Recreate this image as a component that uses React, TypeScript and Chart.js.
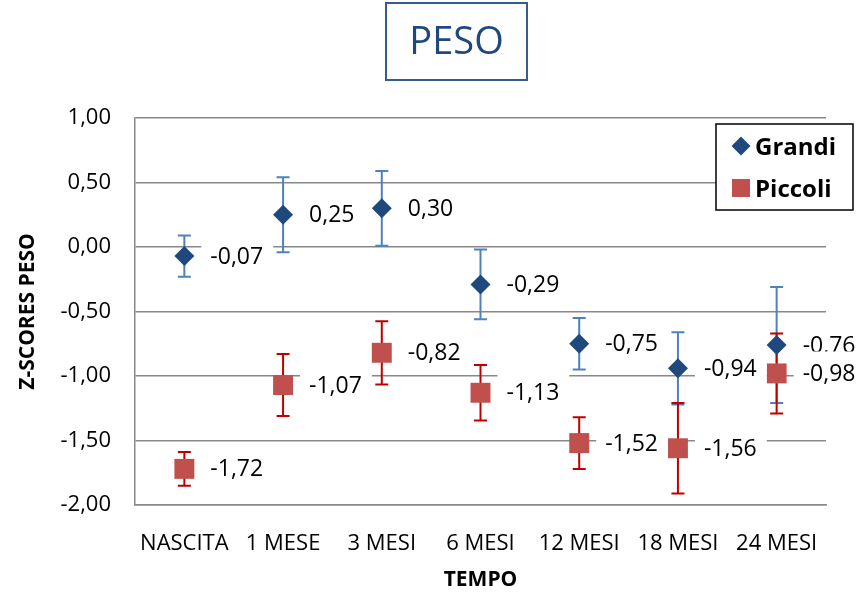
import { useEffect, useRef } from "react";
import { Chart, registerables } from "chart.js";

Chart.register(...registerables);

const categories = ["NASCITA", "1 MESE", "3 MESI", "6 MESI", "12 MESI", "18 MESI", "24 MESI"];
const grandiValues = [-0.07, 0.25, 0.3, -0.29, -0.75, -0.94, -0.76];
const grandiErrors = [0.16, 0.29, 0.29, 0.27, 0.2, 0.28, 0.45];
const piccoliValues = [-1.72, -1.07, -0.82, -1.13, -1.52, -1.56, -0.98];
const piccoliErrors = [0.13, 0.24, 0.245, 0.215, 0.2, 0.35, 0.31];
const yTickValues = [-2, -1.5, -1, -0.5, 0, 0.5, 1];
const seriesNames = ["Grandi", "Piccoli"];
const chartTitle = "PESO";
const yTitle = "Z-SCORES PESO";
const xTitle = "TEMPO";

const FONT = "'Open Sans', sans-serif";
const errors = [grandiErrors, piccoliErrors];
const errorColors = ["#4F81BD", "#C00000"];
const markerColors = ["#1F497D", "#C0504D"];
const markerStyles = ["rectRot", "rect"];
const markerRadii = [10, 14.1];

const fmt = (v: number) => v.toFixed(2).replace(".", ",");

const errorBarPlugin = {
  id: "errorBars",
  beforeDatasetsDraw(chart: any) {
    const ctx = chart.ctx;
    const ys = chart.scales.y;
    chart.data.datasets.forEach((ds: any, i: number) => {
      const meta = chart.getDatasetMeta(i);
      ctx.save();
      ctx.strokeStyle = errorColors[i];
      ctx.lineWidth = 2;
      meta.data.forEach((pt: any, j: number) => {
        const v = ds.data[j] as number;
        const e = errors[i][j];
        const x = pt.x;
        const top = ys.getPixelForValue(v + e);
        const bot = ys.getPixelForValue(v - e);
        ctx.beginPath();
        ctx.moveTo(x, top);
        ctx.lineTo(x, bot);
        ctx.moveTo(x - 6.5, top);
        ctx.lineTo(x + 6.5, top);
        ctx.moveTo(x - 6.5, bot);
        ctx.lineTo(x + 6.5, bot);
        ctx.stroke();
      });
      ctx.restore();
    });
  },
};

const dataLabelPlugin = {
  id: "dataLabels",
  afterDatasetsDraw(chart: any) {
    const ctx = chart.ctx;
    ctx.save();
    ctx.font = `23px ${FONT}`;
    ctx.textBaseline = "middle";
    ctx.textAlign = "left";
    chart.data.datasets.forEach((ds: any, i: number) => {
      const meta = chart.getDatasetMeta(i);
      meta.data.forEach((pt: any, j: number) => {
        const text = fmt(ds.data[j]);
        const w = ctx.measureText(text).width;
        ctx.fillStyle = "#FFFFFF";
        ctx.fillRect(pt.x + 17, pt.y - 22, w + 19, 44);
        ctx.fillStyle = "#000000";
        ctx.fillText(text, pt.x + 26, pt.y + 1);
      });
    });
    ctx.restore();
  },
};

const decorPlugin = {
  id: "decor",
  afterDraw(chart: any) {
    const ctx = chart.ctx;
    ctx.save();
    // Title box
    ctx.fillStyle = "#FFFFFF";
    ctx.fillRect(386, 3, 141, 77);
    ctx.strokeStyle = "#385D8A";
    ctx.lineWidth = 2;
    ctx.strokeRect(386, 3, 141, 77);
    ctx.fillStyle = "#1F497D";
    ctx.font = `38px ${FONT}`;
    ctx.textAlign = "center";
    ctx.textBaseline = "alphabetic";
    ctx.fillText(chartTitle, 456.5, 54);

    // Legend box
    ctx.fillStyle = "#FFFFFF";
    ctx.fillRect(716, 124, 137, 86);
    ctx.strokeStyle = "#000000";
    ctx.lineWidth = 1.5;
    ctx.strokeRect(716, 124, 137, 86);
    const rows = [146, 188];
    const baselines = [155, 197];
    seriesNames.forEach((name, i) => {
      ctx.fillStyle = markerColors[i];
      const cx = 741;
      const cy = rows[i];
      ctx.beginPath();
      if (markerStyles[i] === "rectRot") {
        const r = 9.5;
        ctx.moveTo(cx - r, cy);
        ctx.lineTo(cx, cy - r);
        ctx.lineTo(cx + r, cy);
        ctx.lineTo(cx, cy + r);
        ctx.closePath();
      } else {
        ctx.rect(cx - 9, cy - 9, 18, 18);
      }
      ctx.fill();
      ctx.fillStyle = "#000000";
      ctx.font = `bold 24px ${FONT}`;
      ctx.textAlign = "left";
      ctx.fillText(name, 755, baselines[i]);
    });
    ctx.restore();
  },
};

export default function App() {
  const ref = useRef<HTMLCanvasElement | null>(null);

  useEffect(() => {
    if (!ref.current) return;
    const chart = new Chart(ref.current, {
      type: "line",
      data: {
        labels: categories,
        datasets: [grandiValues, piccoliValues].map((vals, i) => ({
          label: seriesNames[i],
          data: vals,
          showLine: false,
          pointStyle: markerStyles[i] as any,
          pointRadius: markerRadii[i],
          pointHoverRadius: markerRadii[i],
          pointBackgroundColor: markerColors[i],
          pointBorderColor: markerColors[i],
          pointBorderWidth: 0,
          backgroundColor: markerColors[i],
          borderColor: markerColors[i],
        })),
      },
      options: {
        responsive: false,
        animation: false,
        events: [],
        layout: { padding: { top: 118, right: 41, left: 0, bottom: 0 } },
        plugins: {
          legend: { display: false },
          tooltip: { enabled: false },
          title: { display: false },
        },
        scales: {
          x: {
            type: "category",
            offset: true,
            grid: { display: false },
            border: { display: true, color: "#888888", width: 1.5 },
            ticks: {
              color: "#000000",
              font: { family: FONT, size: 22 },
              padding: 18,
              autoSkip: false,
              maxRotation: 0,
              minRotation: 0,
            },
            title: {
              display: true,
              text: xTitle,
              color: "#000000",
              font: { family: FONT, size: 21, weight: "bold" },
              padding: { top: 0, bottom: 0 },
            },
            afterFit: (s: any) => {
              s.height = 88;
            },
          },
          y: {
            type: "linear",
            min: -2,
            max: 1,
            afterBuildTicks: (s: any) => {
              s.ticks = yTickValues.map((v) => ({ value: v }));
            },
            grid: { color: "#888888", lineWidth: 1.5, drawTicks: false },
            border: { display: true, color: "#888888", width: 1.5 },
            ticks: {
              color: "#000000",
              font: { family: FONT, size: 22 },
              padding: 24,
              callback: (v: any) => fmt(Number(v)),
            },
            title: {
              display: true,
              text: yTitle,
              color: "#000000",
              font: { family: FONT, size: 21, weight: "bold" },
              padding: { top: 15, bottom: 0 },
            },
            afterFit: (s: any) => {
              s.width = 135;
            },
          },
        },
      },
      plugins: [errorBarPlugin, dataLabelPlugin, decorPlugin],
    });
    return () => chart.destroy();
  }, []);

  return (
    <div style={{ position: "absolute", left: 0, top: 0, width: 867, height: 593, background: "#FFFFFF" }}>
      <canvas ref={ref} width={867} height={593} style={{ display: "block" }} />
    </div>
  );
}
